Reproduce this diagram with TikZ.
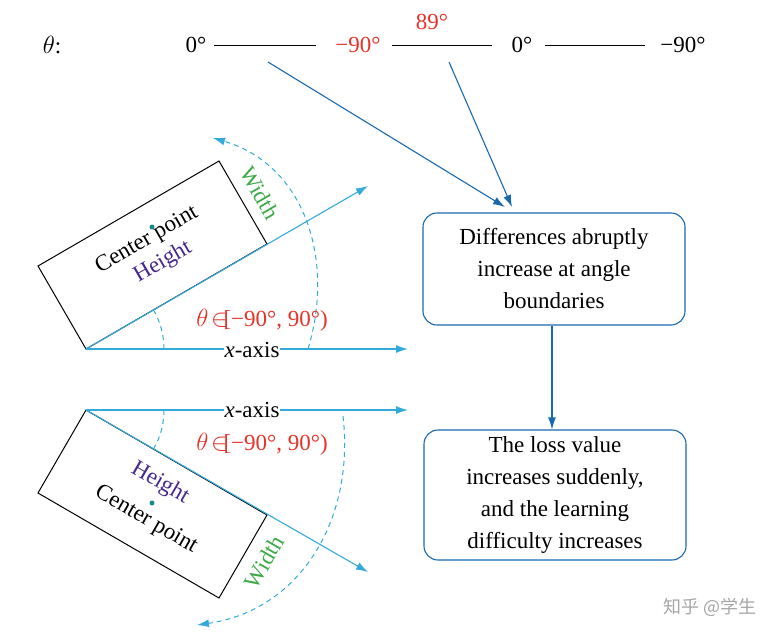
\documentclass[tikz,border=0pt]{standalone}
\usepackage{fontspec}
\setmainfont{Liberation Serif}
\newfontfamily\cjk{Noto Sans CJK SC}
\usetikzlibrary{arrows.meta}
\definecolor{axb}{RGB}{52,170,220}
\definecolor{dkb}{RGB}{25,105,175}
\definecolor{tred}{RGB}{230,50,40}
\definecolor{tgrn}{RGB}{60,170,70}
\definecolor{tpur}{RGB}{70,40,140}
\definecolor{dotc}{RGB}{20,140,140}
\begin{document}
\begin{tikzpicture}[x=1pt,y=-1pt,font=\fontsize{23}{32}\selectfont,
  axis/.style={axb,line width=1.1pt,-{Latex[length=12pt,width=8pt]}},
  dsh/.style={axb,line width=1pt,dash pattern=on 5pt off 4pt},
  conn/.style={dkb,line width=1.1pt,-{Latex[length=12pt,width=8pt]}},
  box/.style={draw=dkb,line width=1.1pt,rounded corners=14pt,align=center,minimum width=262pt,inner sep=2pt},
  hl/.style={line width=1pt}]
\useasboundingbox (0,0) rectangle (771,641);
% top row
\node (th) at (52,45) {$\theta$:};
\node (a0) at (196,45) {0°};
\node[tred] (a1) at (358,45) {−90°};
\node[tred] (a2) at (432,22) {89°};
\node (a3) at (522,45) {0°};
\node (a4) at (683,45) {−90°};
\draw[hl] (214,45) -- (316,45);
\draw[hl] (392,45) -- (492,45);
\draw[hl] (545,45) -- (645,45);
% boxes
\node[box,minimum height=112pt] (b1) at (554,269) {Differences abruptly\\increase at angle\\boundaries};
\node[box,minimum height=130pt] (b2) at (555,495) {The loss value\\increases suddenly,\\and the learning\\difficulty increases};
\coordinate (s1) at (268,62);
\coordinate (s2) at (449,62);
\coordinate (e1) at (505,207);
\coordinate (e2) at (512,207);
\draw[conn] (s1) -- (e1);
\draw[conn] (s2) -- (e2);
\draw[conn] ([xshift=-2pt]b1.south) -- ([xshift=-3pt]b2.north);
% top rectangle diagram
\coordinate (O1) at (86,349);
\draw[hl] (O1) -- (267,244) -- (219,161) -- (38,266) -- cycle;
\draw[axis] (O1) -- (408,349);
\draw[axis] (O1) -- (368,186);
\draw[dsh] (164,349) arc[start angle=0,end angle=-30,radius=78];
\draw[dsh,-{Latex[length=12pt,width=8pt]}] (308,349) .. controls (335,260) and (305,165) .. (213,138);
\node[fill=white,inner sep=1pt] (xl1) at (252,350) {\textit{x}-axis};
\node[tred] (t1) at (262,320) {$\theta\mskip-3mu\in\mskip-3mu$[−90°, 90°)};
\node[tgrn,rotate=-60] (w1) at (260,193) {Width};
\node[rotate=30] (c1) at (147,240) {Center point};
\node[tpur,rotate=30] (h1) at (163,262) {Height};
\fill[dotc] (152,227) circle (2.5pt);
% bottom rectangle diagram
\coordinate (O2) at (86,410);
\draw[hl] (O2) -- (267,515) -- (219,598) -- (38,493) -- cycle;
\draw[axis] (O2) -- (408,410);
\draw[axis] (O2) -- (368,572);
\draw[dsh] (164,410) arc[start angle=0,end angle=30,radius=78];
\draw[dsh,-{Latex[length=12pt,width=8pt]}] (343,416) .. controls (355,520) and (300,610) .. (197,625);
\node[fill=white,inner sep=1pt] (xl2) at (252,410) {\textit{x}-axis};
\node[tred] (t2) at (262,444) {$\theta\mskip-3mu\in\mskip-3mu$[−90°, 90°)};
\node[tgrn,rotate=60] (w2) at (264,562) {Width};
\node[rotate=-30] (c2) at (146,520) {Center point};
\node[tpur,rotate=-30] (h2) at (160,483) {Height};
\fill[dotc] (152,503) circle (2.5pt);
\node[gray!70,font=\cjk\fontsize{18}{20}\selectfont] (wm) at (710,607) {知乎 @学生};
\end{tikzpicture}
\end{document}
